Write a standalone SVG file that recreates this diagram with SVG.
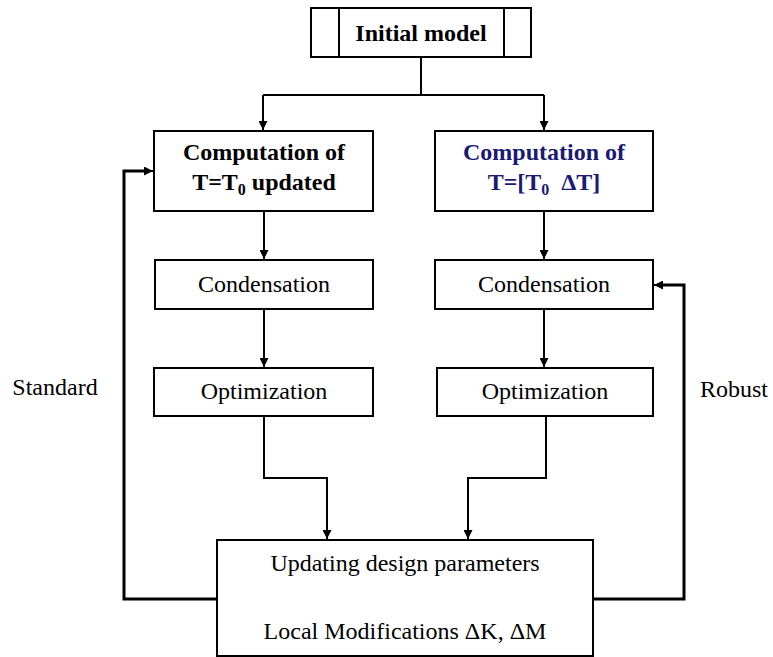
<svg xmlns="http://www.w3.org/2000/svg" width="773" height="657" viewBox="0 0 773 657">
<defs>
<marker id="ah" viewBox="0 0 10 10" refX="10" refY="5" markerWidth="9" markerHeight="9" markerUnits="userSpaceOnUse" orient="auto">
<path d="M0,0 L10,5 L0,10 z" fill="#000"/>
</marker>
<style>
.box{fill:#fff;stroke:#000;stroke-width:2}
.t{font-family:"Liberation Serif","Times New Roman",serif;font-size:24px;fill:#000;text-anchor:middle}
.b{font-weight:bold}
.blue{fill:#1a1a72}
.ln{fill:none;stroke:#000;stroke-width:2}
.fb{fill:none;stroke:#000;stroke-width:3}
</style>
</defs>
<rect width="773" height="657" fill="#fff"/>
<g id="connectors">
<path class="ln" d="M421,57 V95"/>
<path class="ln" d="M263,95 H544"/>
<path class="ln" d="M263,95 V130" marker-end="url(#ah)"/>
<path class="ln" d="M544,95 V130" marker-end="url(#ah)"/>
<path class="ln" d="M264,211 V259" marker-end="url(#ah)"/>
<path class="ln" d="M544,211 V259" marker-end="url(#ah)"/>
<path class="ln" d="M264,309 V367" marker-end="url(#ah)"/>
<path class="ln" d="M544,309 V367" marker-end="url(#ah)"/>
<path class="ln" d="M264,416 V478 H327 V539" marker-end="url(#ah)"/>
<path class="ln" d="M546,416 V478 H468 V539" marker-end="url(#ah)"/>
<path class="fb" d="M217,599 H124 V171 H145"/>
<path class="ln" d="M140,171 H153" marker-end="url(#ah)"/>
<path class="fb" d="M593,599 H684 V285 H662"/>
<path class="ln" d="M666,285 H654" marker-end="url(#ah)"/>
</g>
<g id="initial">
<rect class="box" x="311" y="8" width="220" height="49"/>
<line class="ln" x1="339" y1="8" x2="339" y2="57"/>
<line class="ln" x1="504" y1="8" x2="504" y2="57"/>
<text class="t b" x="421" y="41">Initial model</text>
</g>
<g id="comp-left">
<rect class="box" x="154" y="131" width="219" height="80"/>
<text class="t b" x="264" y="160">Computation of</text>
<text class="t b" x="264" y="190">T=T<tspan font-size="16" dy="5">0</tspan><tspan dy="-5"> updated</tspan></text>
</g>
<g id="comp-right">
<rect class="box" x="435" y="131" width="218" height="80"/>
<text class="t b blue" x="544" y="160">Computation of</text>
<text class="t b blue" x="544" y="190">T=[T<tspan font-size="16" dy="5">0</tspan><tspan dy="-5" xml:space="preserve">  ΔT]</tspan></text>
</g>
<g id="cond-left">
<rect class="box" x="155" y="260" width="218" height="49"/>
<text class="t" x="264" y="292">Condensation</text>
</g>
<g id="cond-right">
<rect class="box" x="435" y="260" width="218" height="49"/>
<text class="t" x="544" y="292">Condensation</text>
</g>
<g id="opt-left">
<rect class="box" x="154" y="368" width="219" height="48"/>
<text class="t" x="264" y="399">Optimization</text>
</g>
<g id="opt-right">
<rect class="box" x="437" y="368" width="216" height="48"/>
<text class="t" x="545" y="399">Optimization</text>
</g>
<g id="update">
<rect class="box" x="217" y="540" width="376" height="116"/>
<text class="t" x="405" y="571">Updating design parameters</text>
<text class="t" x="405" y="639">Local Modifications ΔK, ΔM</text>
</g>
<g id="labels">
<text class="t" x="55" y="395">Standard</text>
<text class="t" x="734" y="397">Robust</text>
</g>
</svg>
